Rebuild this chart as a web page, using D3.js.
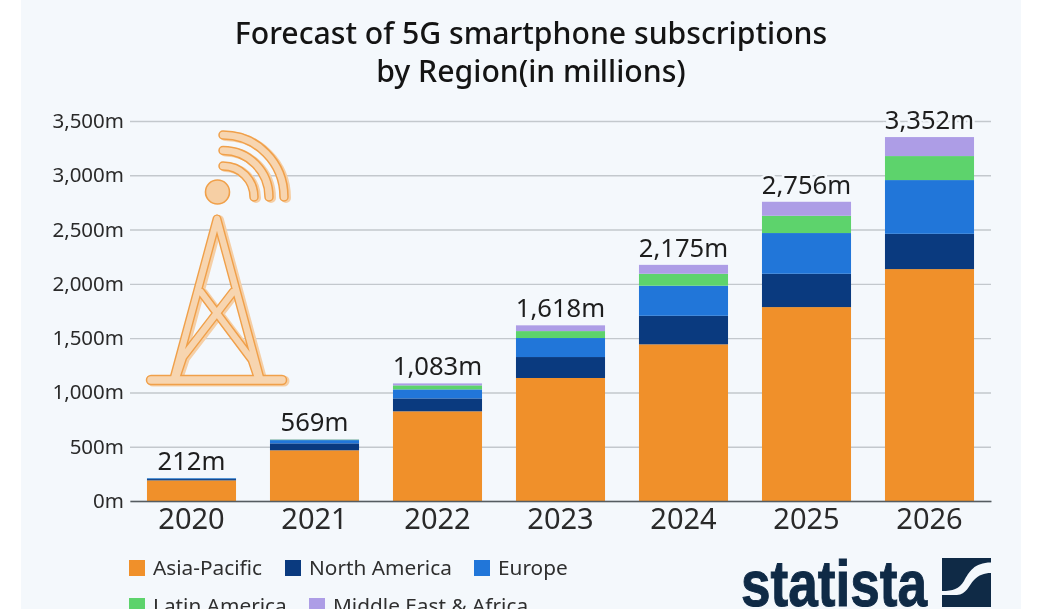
<!DOCTYPE html>
<html>
<head>
<meta charset="utf-8">
<script src="https://cdn.jsdelivr.net/npm/d3@7"></script>
<style>
  html, body { margin: 0; padding: 0; background: #fff; overflow: hidden; }
  svg { display: block; font-family: "Noto Sans", "Open Sans", sans-serif; filter: blur(0.45px); }
</style>
</head>
<body>
<div id="chart"></div>
<script>
// datos (millones)
const years = ['2020', '2021', '2022', '2023', '2024', '2025', '2026'];
const regions = ['Asia-Pacific', 'North America', 'Europe', 'Latin America', 'Middle East & Africa'];
const asiaPacific = [190, 467, 826, 1133, 1443, 1786, 2136];
const northAmerica = [12, 64, 119, 193, 263, 307, 325];
const europe = [8, 30, 83, 175, 277, 375, 495];
const latinAmerica = [1, 5, 37, 64, 110, 159, 221];
const middleEast = [1, 3, 18, 53, 82, 129, 175];
const totals = [212, 569, 1083, 1618, 2175, 2756, 3352];
const yTicks = [0, 500, 1000, 1500, 2000, 2500, 3000, 3500];
const colors = ['#f0902a', '#0a3a7f', '#2176d9', '#5dd36c', '#ad9de6'];

const width = 1043, height = 609;
const bg = '#f4f8fc';

let svg = d3.select('#chart').append('svg')
  .attr('width', width)
  .attr('height', height);

svg.append('rect')
  .attr('x', 21).attr('y', 0)
  .attr('width', 1000).attr('height', height)
  .attr('fill', bg);

// titulo
svg.append('text')
  .attr('text-anchor', 'middle')
  .attr('font-size', 30.2)
  .attr('font-weight', 500)
  .attr('fill', '#141414')
  .selectAll('tspan')
  .data(['Forecast of 5G smartphone subscriptions', 'by Region(in millions)'])
  .join('tspan')
  .attr('x', 531)
  .attr('y', (d, i) => 44 + i * 38)
  .text(d => d);

// escalas
let x = d3.scaleBand()
  .domain(years)
  .range([130, 991])
  .paddingInner(0.276)
  .paddingOuter(0.138);

let y = d3.scaleLinear()
  .domain([0, 3500])
  .range([501, 121]);

// eje y con grilla
let yAxis = svg.append('g')
  .attr('transform', 'translate(130,0)')
  .call(d3.axisLeft(y)
    .tickValues(yTicks)
    .tickSize(0)
    .tickPadding(6)
    .tickFormat(d => d3.format(',')(d) + 'm'));
yAxis.select('.domain').remove();
yAxis.selectAll('text')
  .attr('font-size', 20.5)
  .attr('font-family', '"Noto Sans", sans-serif')
  .attr('fill', '#2a2a2a');
yAxis.selectAll('line')
  .attr('x2', 861)
  .attr('stroke', '#c3c8cd')
  .attr('stroke-width', 1.4);

// icono de la antena
const towerPath = 'M217,219 L174,378 M217,219 L260,378 M201,292 L252,360 L258,378 M233,292 L183,357 L176,378';
const basePath = 'M151,380 H282';
const wavePath = 'M223,135 A61,62 0 0 1 284,197 M223,150.5 A46,46.5 0 0 1 269,197 M223,166 A31,31 0 0 1 254,197';
let icon = svg.append('g').attr('fill', 'none').attr('stroke-linecap', 'round').attr('stroke-linejoin', 'round');
[[towerPath, 10], [basePath, 11], [wavePath, 10]].forEach(([p, w]) => {
  icon.append('path').attr('d', p).attr('stroke', '#f5cfa6').attr('stroke-width', w)
    .attr('transform', 'translate(2,1)');
});
[[towerPath, 9], [basePath, 10.5], [wavePath, 9.5]].forEach(([p, w]) => {
  icon.append('path').attr('d', p).attr('stroke', '#f0a04a').attr('stroke-width', w);
});
[[towerPath, 6.2], [basePath, 7.5], [wavePath, 6.5]].forEach(([p, w]) => {
  icon.append('path').attr('d', p).attr('stroke', '#f7d5b0').attr('stroke-width', w);
});
icon.append('circle')
  .attr('cx', 217.5).attr('cy', 192).attr('r', 12)
  .attr('fill', '#f6cfa4').attr('stroke', '#f0a04a').attr('stroke-width', 1.6);

// barras apiladas
const table = years.map((yr, i) => ({
  year: yr,
  'Asia-Pacific': asiaPacific[i],
  'North America': northAmerica[i],
  'Europe': europe[i],
  'Latin America': latinAmerica[i],
  'Middle East & Africa': middleEast[i]
}));
let stacked = d3.stack().keys(regions)(table);

svg.append('g')
  .selectAll('g')
  .data(stacked)
  .join('g')
  .attr('fill', (d, i) => colors[i])
  .selectAll('rect')
  .data(d => d)
  .join('rect')
  .attr('x', d => x(d.data.year))
  .attr('y', d => y(d[1]))
  .attr('width', x.bandwidth())
  .attr('height', d => y(d[0]) - y(d[1]));

// totales con halo del color del fondo
svg.append('g')
  .selectAll('text')
  .data(totals)
  .join('text')
  .attr('x', (d, i) => x(years[i]) + x.bandwidth() / 2)
  .attr('y', d => y(d) - 8)
  .attr('text-anchor', 'middle')
  .attr('font-size', 25.6)
  .attr('fill', '#1e1e1e')
  .attr('stroke', bg)
  .attr('stroke-width', 5)
  .attr('paint-order', 'stroke')
  .text(d => d3.format(',')(d) + 'm');

// eje x
let xAxis = svg.append('g')
  .attr('transform', 'translate(0,501)')
  .call(d3.axisBottom(x).tickSize(0).tickPadding(7));
xAxis.select('.domain')
  .attr('stroke', '#555c61')
  .attr('stroke-width', 1.6);
xAxis.selectAll('text')
  .attr('font-size', 29)
  .attr('font-family', '"Noto Sans", sans-serif')
  .attr('fill', '#2a2a2a');

// leyenda
const legendX = [129, 285, 474, 129, 309];
const legendY = [568, 568, 568, 606, 606];
let legend = svg.append('g')
  .selectAll('g')
  .data(regions)
  .join('g')
  .attr('transform', (d, i) => `translate(${legendX[i]},${legendY[i]})`);
legend.append('rect')
  .attr('x', 0).attr('y', -8)
  .attr('width', 16).attr('height', 16)
  .attr('fill', (d, i) => colors[i]);
legend.append('text')
  .attr('x', 24)
  .attr('y', 7)
  .attr('font-size', 20.8)
  .attr('fill', '#2f2f2f')
  .text(d => d);

// logo
const navy = '#0f2a46';
svg.append('text')
  .attr('x', 741)
  .attr('y', 606)
  .attr('font-family', '"Liberation Sans Narrow", "Liberation Sans", sans-serif')
  .attr('font-weight', 700)
  .attr('font-size', 64)
  .attr('textLength', 186)
  .attr('lengthAdjust', 'spacingAndGlyphs')
  .attr('fill', navy)
  .attr('stroke', navy)
  .attr('stroke-width', 1)
  .text('statista');
svg.append('path')
  .attr('fill', navy)
  .attr('d', 'M942,558 H991 V562.5 C974,562.5 969,572 964,581 C959,589 953,591 942,591 Z M991,573 V607 H942 V595 H957 C966,595 969,585 974,580 C979,575 984,573 991,573 Z');
</script>
</body>
</html>
